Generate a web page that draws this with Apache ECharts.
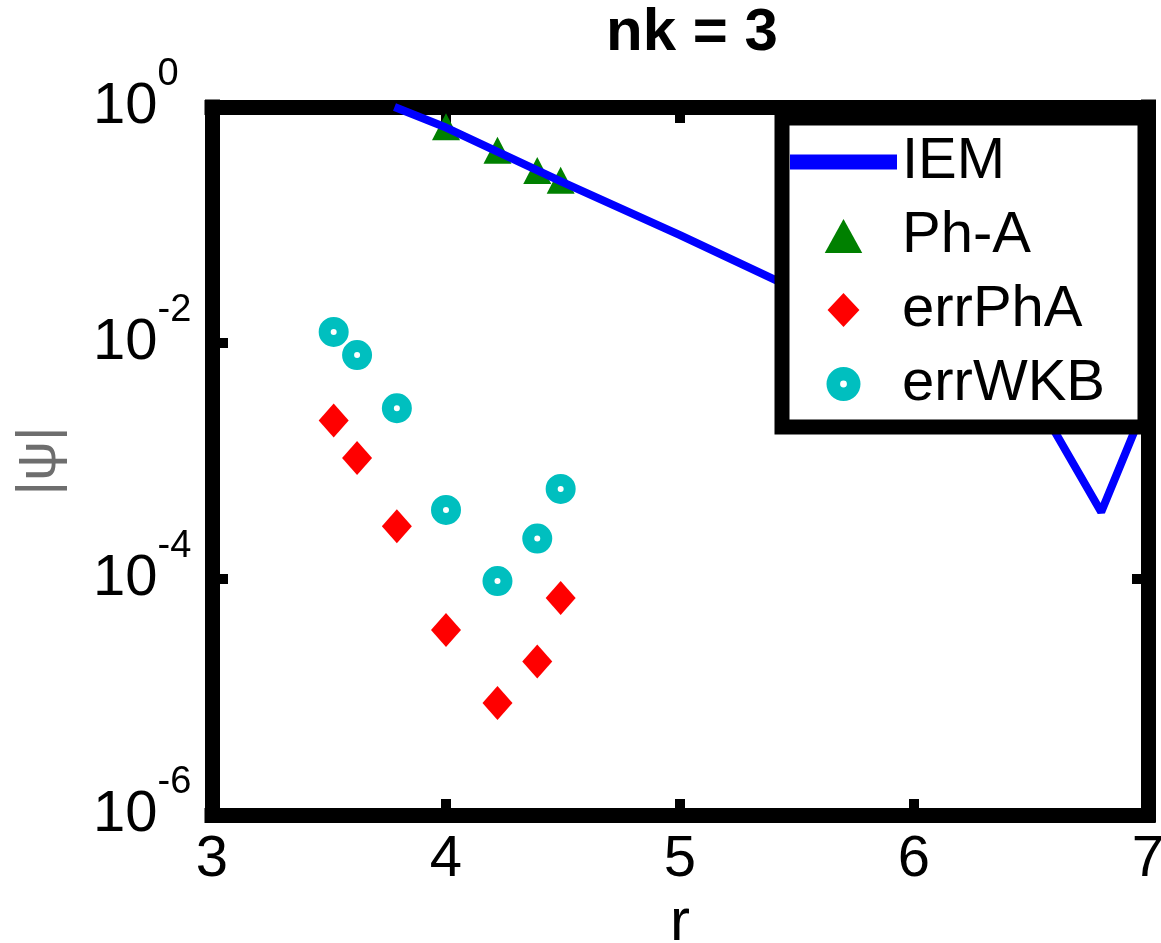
<!DOCTYPE html>
<html>
<head>
<meta charset="utf-8">
<script src="https://cdn.jsdelivr.net/npm/echarts@6/dist/echarts.min.js"></script>
<style>
  html, body { margin: 0; padding: 0; background: #fff; }
  #chart { width: 1161px; height: 943px; }
</style>
</head>
<body>
<div id="chart"></div>
<script>
// IEM curve
var rIEM = [3.78, 4.0, 4.5, 5.0, 5.5, 6.0, 6.5, 6.6, 6.8, 7.0];
var valIEM = [1.0, 0.67, 0.23, 0.082, 0.028, 0.0085, 0.0023, 0.0018, 0.00037, 0.0034];

// Ph-A triangles
var rPhA = [4.0, 4.22, 4.39, 4.49];
var valPhA = [0.68, 0.43, 0.29, 0.24];

// error markers share the same r values
var rErr = [3.52, 3.62, 3.79, 4.0, 4.22, 4.39, 4.49];
var errPhA = [2.2e-3, 1.06e-3, 2.8e-4, 3.7e-5, 8.9e-6, 2.0e-5, 6.9e-5];
var errWKB = [1.24e-2, 7.9e-3, 2.8e-3, 3.85e-4, 9.6e-5, 2.2e-4, 5.8e-4];

var xTicks = [3, 4, 5, 6, 7];

function pairs(xs, ys) {
    return xs.map(function (x, i) { return [x, ys[i]]; });
}

var FONT = "'Liberation Sans', Arial, sans-serif";
// ring with a small hole, like the matlab 'o' marker drawn thick
var ringPath = 'path://M0,-15A15,15 0 1,1 0,15A15,15 0 1,1 0,-15ZM0,-3A3,3 0 1,0 0,3A3,3 0 1,0 0,-3Z';
var barPath = 'path://M0,0H107V15H0Z';
// legend icons as paths so they keep their aspect
var triPath = 'path://M16,0L32,29H0Z';
var diaPath = 'path://M15,0L30,16L15,32L0,16Z';

var chart = echarts.init(document.getElementById('chart'));

var frameLine = { show: true, lineStyle: { color: '#000', width: 15, cap: 'square' } };
var innerTick = { show: true, inside: true, length: 16, lineStyle: { color: '#000', width: 10 } };

chart.setOption({
    backgroundColor: '#fff',
    animation: false,
    textStyle: { fontFamily: FONT },
    title: {
        text: 'nk = 3',
        left: 601,
        top: -2,
        textStyle: { fontFamily: FONT, fontSize: 60, fontWeight: 'bold', color: '#000' }
    },
    grid: { left: 212, right: 13, top: 107, bottom: 128, containLabel: false, outerBoundsMode: 'none' },
    legend: {
        orient: 'vertical',
        left: 782,
        top: 118,
        align: 'left',
        padding: [14, 40, 13, 8],
        itemGap: 14,
        itemWidth: 107,
        itemHeight: 34,
        symbolKeepAspect: true,
        borderColor: '#000',
        borderWidth: 15,
        borderRadius: 0,
        backgroundColor: '#fff',
        textStyle: { fontFamily: FONT, fontSize: 58, color: '#000', lineHeight: 60 },
        data: [
            { name: 'IEM', icon: barPath, itemStyle: { color: '#0000ff' } },
            { name: 'Ph-A', icon: triPath },
            { name: 'errPhA', icon: diaPath },
            { name: 'errWKB', icon: ringPath }
        ]
    },
    xAxis: [{
        type: 'value',
        min: 3, max: 7, interval: 1,
        position: 'bottom',
        name: 'r',
        nameLocation: 'middle',
        nameGap: 78,
        nameMoveOverlap: false,
        nameTextStyle: { fontFamily: FONT, fontSize: 60, color: '#000' },
        axisLine: frameLine,
        axisTick: innerTick,
        splitLine: { show: false },
        axisLabel: {
            margin: 16,
            color: '#000',
            fontSize: 58,
            fontFamily: FONT,
            formatter: function (v) { return xTicks.indexOf(v) >= 0 ? String(v) : ''; }
        }
    }, {
        type: 'value',
        min: 3, max: 7, interval: 1,
        position: 'top',
        axisLine: frameLine,
        axisTick: innerTick,
        splitLine: { show: false },
        axisLabel: { show: false }
    }],
    yAxis: [{
        type: 'log',
        logBase: 10,
        min: 1e-6, max: 1,
        interval: 2,
        position: 'left',
        name: '|ψ|',
        nameLocation: 'middle',
        nameGap: 144,
        nameMoveOverlap: false,
        nameTextStyle: { fontFamily: FONT, fontSize: 56, color: '#6e6e6e' },
        axisLine: frameLine,
        axisTick: innerTick,
        minorTick: { show: false },
        splitLine: { show: false },
        axisLabel: {
            margin: 119,
            align: 'left',
            padding: [0, 0, 22, 0],
            showMinLabel: true,
            showMaxLabel: true,
            formatter: function (v) {
                var e = Math.round(Math.log(v) / Math.LN10);
                return '{b|10}{s|' + e + '}';
            },
            rich: {
                b: { fontFamily: FONT, fontSize: 58, color: '#000', verticalAlign: 'bottom' },
                s: { fontFamily: FONT, fontSize: 38, color: '#000', verticalAlign: 'top', padding: [0, 0, 42, 0] }
            }
        }
    }, {
        type: 'log',
        logBase: 10,
        min: 1e-6, max: 1,
        interval: 2,
        position: 'right',
        axisLine: frameLine,
        axisTick: innerTick,
        minorTick: { show: false },
        splitLine: { show: false },
        axisLabel: { show: false }
    }],
    series: [{
        name: 'IEM',
        type: 'line',
        xAxisIndex: 0,
        yAxisIndex: 0,
        data: pairs(rIEM, valIEM),
        symbol: 'none',
        clip: true,
        color: '#0000ff',
        lineStyle: { color: '#0000ff', width: 8 }
    }, {
        name: 'Ph-A',
        type: 'scatter',
        data: pairs(rPhA, valPhA),
        symbol: 'triangle',
        symbolSize: [28, 27],
        color: '#008000',
        itemStyle: { color: '#008000', opacity: 1 }
    }, {
        name: 'errPhA',
        type: 'scatter',
        data: pairs(rErr, errPhA),
        symbol: 'diamond',
        symbolSize: [30, 34],
        color: '#ff0000',
        itemStyle: { color: '#ff0000', opacity: 1 }
    }, {
        name: 'errWKB',
        type: 'scatter',
        data: pairs(rErr, errWKB),
        symbol: ringPath,
        symbolSize: 30,
        symbolKeepAspect: true,
        color: '#00bfbf',
        itemStyle: { color: '#00bfbf', opacity: 1 }
    }]
});
</script>
</body>
</html>
